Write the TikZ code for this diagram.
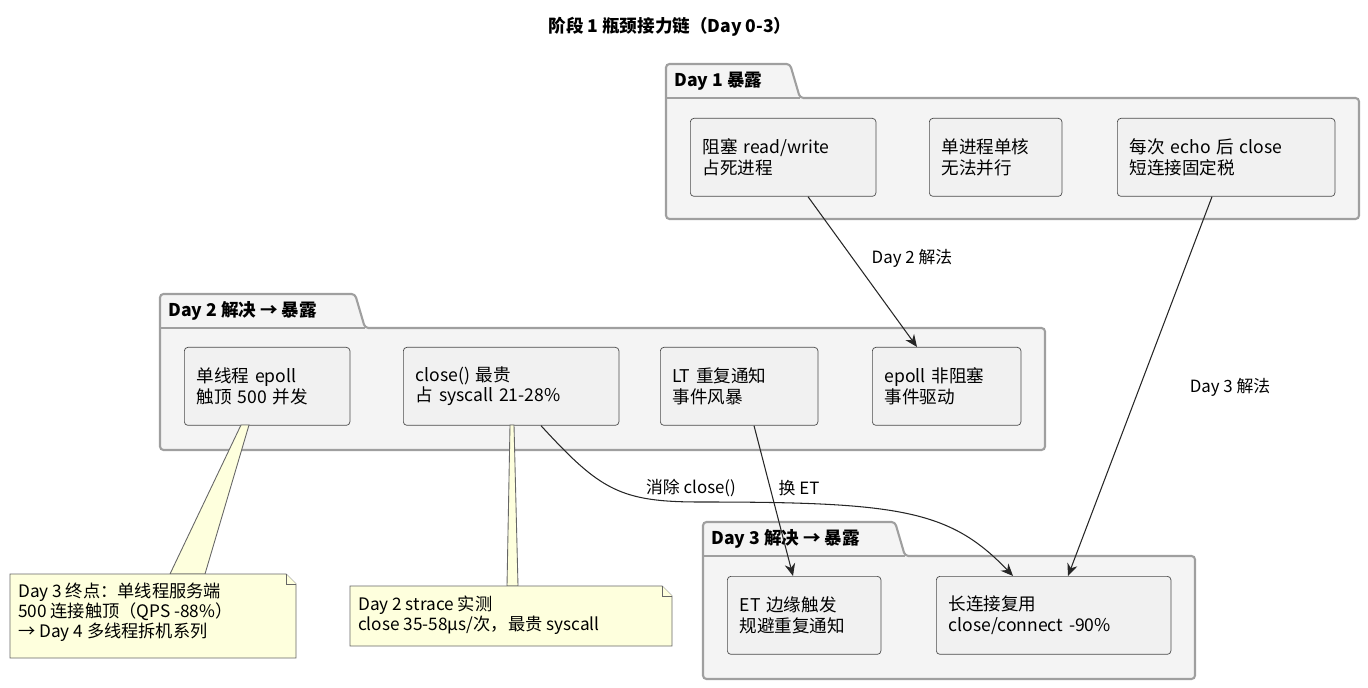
\documentclass[tikz,border=0pt]{standalone}
\usepackage{fontspec}
\setmainfont{Noto Sans CJK SC}
\usepackage{tikz}
\usetikzlibrary{arrows.meta}
\definecolor{pkgfill}{HTML}{F4F4F4}
\definecolor{boxfill}{HTML}{F1F1F1}
\definecolor{notefill}{HTML}{FEFFDD}
\tikzset{
  pkg/.style={draw=gray!75, line width=1.2pt, fill=pkgfill, rounded corners=2pt},
  box/.style={draw=black!70, fill=boxfill, rounded corners=2pt, align=left,
    font=\fontsize{10pt}{11.6pt}\selectfont, inner xsep=7pt, minimum height=1.56cm, anchor=north west},
  note/.style={draw=black!60, fill=notefill, line width=0.5pt},
  flow/.style={-{Stealth[length=7pt,width=6pt]}, draw=black!85, line width=0.6pt},
  lbl/.style={font=\fontsize{9.6pt}{11pt}\selectfont},
  pkgname/.style={font=\bfseries\fontsize{10pt}{11pt}\selectfont, anchor=west}
}
\begin{document}
\begin{tikzpicture}[x=0.02cm,y=-0.02cm]
\useasboundingbox (0,0) rectangle (1368,688);
\node[font=\bfseries\fontsize{10pt}{11pt}\selectfont] (title) at (670,27) {阶段 1 瓶颈接力链（Day 0-3）};

% packages
\draw[pkg] (666,98) -- (666,64) -- (790,64) -- (800,98) -- (1359,98) -- (1359,219) -- (666,219) -- cycle;
\draw[pkg] (666,98) -- (800,98);
\node[pkgname] (p1) at (668,81) {Day 1 暴露};
\draw[pkg] (160,328) -- (160,294) -- (355,294) -- (365,328) -- (1045,328) -- (1045,450) -- (160,450) -- cycle;
\draw[pkg] (160,328) -- (365,328);
\node[pkgname] (p2) at (162,311) {Day 2 解决 → 暴露};
\draw[pkg] (703,556) -- (703,522) -- (895,522) -- (905,556) -- (1195,556) -- (1195,679) -- (703,679) -- cycle;
\draw[pkg] (703,556) -- (905,556);
\node[pkgname] (p3) at (705,539) {Day 3 解决 → 暴露};

% day 1
\node[box, text width=3.22cm] (a1) at (690,118) {阻塞 read/write\\占死进程};
\node[box, text width=2.16cm] (a2) at (929,118) {单进程单核\\无法并行};
\node[box, text width=3.86cm] (a3) at (1117,118) {每次 echo 后 close\\短连接固定税};
% day 2
\node[box, text width=2.82cm] (b1) at (184,347) {单线程 epoll\\触顶 500 并发};
\node[box, text width=3.82cm] (b2) at (403,347) {close() 最贵\\占 syscall 21-28\%};
\node[box, text width=2.66cm] (b3) at (660,347) {LT 重复通知\\事件风暴};
\node[box, text width=2.48cm] (b4) at (872,347) {epoll 非阻塞\\事件驱动};
% day 3
\node[box, text width=2.58cm] (c1) at (727,576) {ET 边缘触发\\规避重复通知};
\node[box, text width=4.2cm] (c2) at (936,576) {长连接复用\\close/connect -90\%};

% notes
\draw[note] (241,425) -- (170,574) -- (205,574) -- (249,425) -- cycle;
\draw[note] (510,425) -- (507,586) -- (518,586) -- (514,425) -- cycle;
\draw[note] (10,574) -- (286,574) -- (296,584) -- (296,658) -- (10,658) -- cycle;
\draw[note] (286,574) -- (286,584) -- (296,584);
\node[lbl, align=left, anchor=north west, font=\fontsize{9.8pt}{11.4pt}\selectfont] (n1) at (12,577) {Day 3 终点：单线程服务端\\500 连接触顶（QPS -88\%）\\→ Day 4 多线程拆机系列};
\draw[note] (350,586) -- (662,586) -- (672,596) -- (672,646) -- (350,646) -- cycle;
\draw[note] (662,586) -- (662,596) -- (672,596);
\node[lbl, align=left, anchor=north west, font=\fontsize{9.8pt}{11.4pt}\selectfont] (n2) at (352,590) {Day 2 strace 实测\\close 35-58µs/次，最贵 syscall};

% arrows
\draw[flow] (a1.south -| 808,0) -- (b4.north -| 917,0);
\node[lbl] (l2) at (912,258) {Day 2 解法};
\draw[flow] (a3.south -| 1212,0) -- (c2.north -| 1068,0);
\node[lbl] (l3) at (1230,387) {Day 3 解法};
\draw[flow] (b2.south -| 541,0) .. controls (600,490) and (620,502) .. (700,502) .. controls (900,502) and (950,510) .. (c2.north -| 1013,0);
\node[lbl] (l4) at (691,488) {消除 close()};
\draw[flow] (b3.south -| 754,0) -- (c1.north -| 793,0);
\node[lbl] (l5) at (799,488) {换 ET};
\end{tikzpicture}
\end{document}
